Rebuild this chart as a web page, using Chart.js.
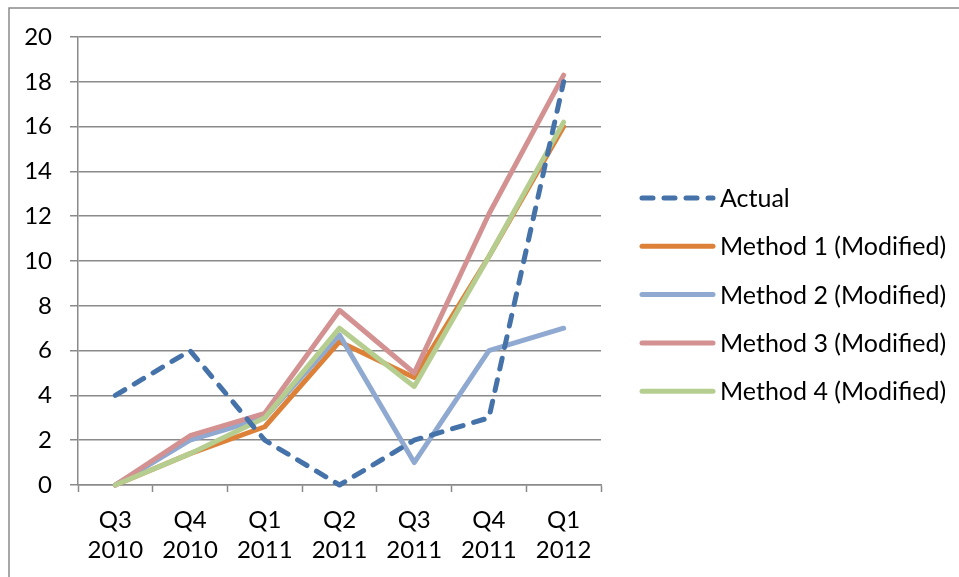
<!DOCTYPE html>
<html>
<head>
<meta charset="utf-8">
<script src="https://cdn.jsdelivr.net/npm/chart.js@4.4.0/dist/chart.umd.min.js"></script>
<style>
  html, body { margin: 0; padding: 0; background: #ffffff; }
  #wrap { position: relative; width: 959px; height: 577px; }
</style>
</head>
<body>
<div id="wrap"><canvas id="chart" width="959" height="577"></canvas></div>
<script>
// Quarterly periods along the x axis (two-line labels)
const quarters = [
  ['Q3', '2010'], ['Q4', '2010'], ['Q1', '2011'], ['Q2', '2011'],
  ['Q3', '2011'], ['Q4', '2011'], ['Q1', '2012']
];

// Observed values and the four modified forecasting methods
const actual  = [4, 6, 2, 0, 2, 3, 18];
const method1 = [0, 1.4, 2.6, 6.4, 4.8, 10.2, 16.0];
const method2 = [0, 2.0, 3.0, 6.7, 1.0, 6.0, 7.0];
const method3 = [0, 2.2, 3.2, 7.8, 5.0, 12.1, 18.3];
const method4 = [0, 1.4, 3.0, 7.0, 4.4, 10.2, 16.2];

// Value axis ticks
const yTicks = [0, 2, 4, 6, 8, 10, 12, 14, 16, 18, 20];

const seriesNames = ['Actual', 'Method 1 (Modified)', 'Method 2 (Modified)',
                     'Method 3 (Modified)', 'Method 4 (Modified)'];

const FONT = 'Lato, "Open Sans", sans-serif';
const GRID = '#8a8a8a';

function series(label, data, color, order, dash) {
  return {
    label, data,
    borderColor: color,
    backgroundColor: color,
    borderWidth: 5,
    borderDash: dash || [],
    borderCapStyle: 'round',
    borderJoinStyle: 'round',
    pointRadius: 0,
    pointHoverRadius: 0,
    tension: 0,
    fill: false,
    clip: false,
    order
  };
}

// Outer frame of the chart (top and left edges)
const framePlugin = {
  id: 'frame',
  beforeDraw(chart) {
    const ctx = chart.ctx;
    ctx.save();
    ctx.fillStyle = '#ffffff';
    ctx.fillRect(0, 0, chart.width, chart.height);
    ctx.strokeStyle = GRID;
    ctx.lineWidth = 1.5;
    ctx.beginPath();
    ctx.moveTo(9, chart.height + 2);
    ctx.lineTo(9, 8);
    ctx.lineTo(chart.width + 2, 8);
    ctx.stroke();
    ctx.restore();
  }
};

// Legend on the right, one line sample per dataset
const legendPlugin = {
  id: 'sideLegend',
  afterDraw(chart) {
    const ctx = chart.ctx;
    const ds = chart.data.datasets;
    const x0 = 642, x1 = 713, tx = 720;
    const yStart = 198, step = 48.3;
    ctx.save();
    ds.forEach((d, i) => {
      const y = yStart + i * step;
      ctx.strokeStyle = d.borderColor;
      ctx.lineWidth = d.borderWidth;
      ctx.lineCap = 'round';
      ctx.setLineDash(d.borderDash || []);
      ctx.beginPath();
      ctx.moveTo(x0, y);
      ctx.lineTo(x1, y);
      ctx.stroke();
      ctx.setLineDash([]);
      ctx.fillStyle = '#000000';
      ctx.font = '25px ' + FONT;
      ctx.textAlign = 'left';
      ctx.textBaseline = 'middle';
      ctx.fillText(d.label, tx, y + 1);
    });
    ctx.restore();
  }
};

new Chart(document.getElementById('chart'), {
  type: 'line',
  data: {
    labels: quarters,
    datasets: [
      series(seriesNames[0], actual,  '#4472a9', 0, [11, 11]),
      series(seriesNames[1], method1, '#dd8139', 4),
      series(seriesNames[2], method2, '#8fa9d0', 3),
      series(seriesNames[3], method3, '#d39191', 2),
      series(seriesNames[4], method4, '#b6cd90', 1)
    ]
  },
  options: {
    responsive: false,
    animation: false,
    events: [],
    layout: { padding: { left: 0, top: 37, right: 358, bottom: 0 } },
    plugins: {
      legend: { display: false },
      tooltip: { enabled: false },
      title: { display: false }
    },
    scales: {
      x: {
        type: 'category',
        offset: true,
        afterFit(scale) { scale.height = 92; },
        grid: {
          offset: true,
          drawOnChartArea: false,
          drawTicks: true,
          tickLength: 7,
          tickColor: GRID,
          tickWidth: 1.5
        },
        border: { color: GRID, width: 1.5 },
        ticks: {
          color: '#000000',
          padding: 13,
          maxRotation: 0,
          autoSkip: false,
          font: { family: FONT, size: 24, lineHeight: 1.25 }
        }
      },
      y: {
        min: 0,
        max: 20,
        afterFit(scale) { scale.width = 78; },
        afterBuildTicks(scale) { scale.ticks = yTicks.map(v => ({ value: v })); },
        grid: {
          color: GRID,
          lineWidth: 1.5,
          tickLength: 8,
          tickColor: GRID,
          tickWidth: 1.5
        },
        border: { color: GRID, width: 1.5 },
        ticks: {
          color: '#000000',
          padding: 18,
          font: { family: FONT, size: 24 }
        }
      }
    }
  },
  plugins: [framePlugin, legendPlugin]
});
</script>
</body>
</html>
